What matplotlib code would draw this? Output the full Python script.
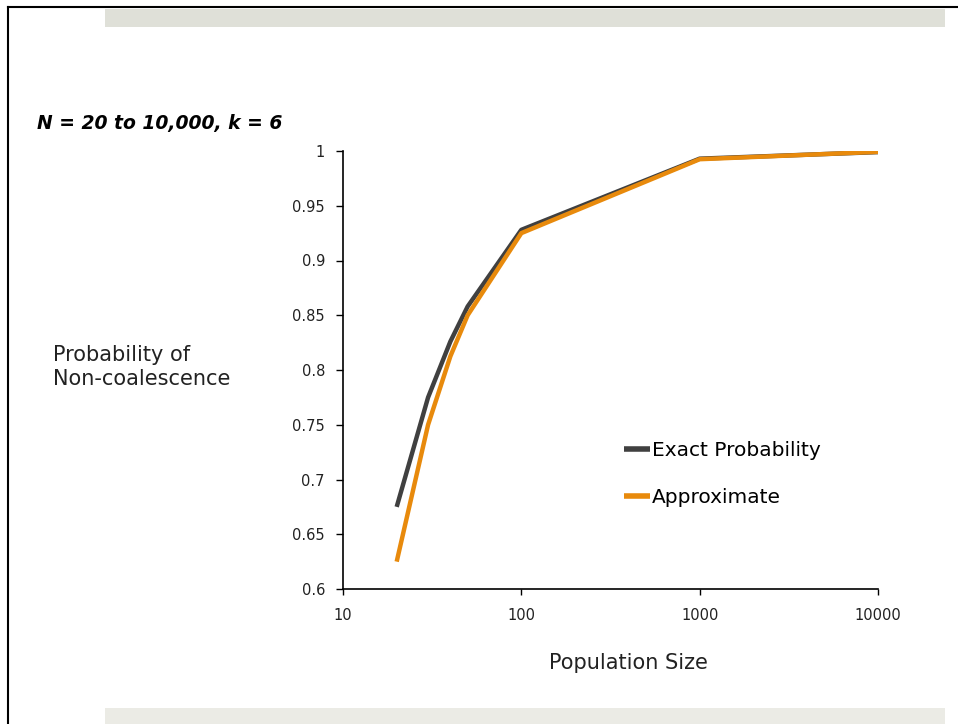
import matplotlib.pyplot as plt
from matplotlib.patches import Rectangle
from matplotlib.lines import Line2D

# values
population_size = [20, 30, 40, 50, 100, 1000, 10000]
exact_prob = [0.675, 0.775, 0.826, 0.858, 0.928, 0.993, 0.999]
approx_prob = [0.625, 0.750, 0.8125, 0.850, 0.925, 0.9925, 0.99925]
y_ticks = [0.6, 0.65, 0.7, 0.75, 0.8, 0.85, 0.9, 0.95, 1.0]
y_tick_labels = ['0.6', '0.65', '0.7', '0.75', '0.8', '0.85', '0.9', '0.95', '1']
x_ticks = [10, 100, 1000, 10000]
x_tick_labels = ['10', '100', '1000', '10000']

W, H = 958, 724
plt.rcParams['font.family'] = ['DejaVu Sans']

fig = plt.figure(figsize=(W / 100, H / 100), dpi=100)


def px(x0, y0, x1, y1):
    """pixel box (top-left origin) -> figure fraction rect"""
    return [x0 / W, 1 - y1 / H, (x1 - x0) / W, (y1 - y0) / H]


# slide decorations: border lines and grey bands
fig.add_artist(Line2D([8 / W, 8 / W], [0, 1 - 7 / H], color='black', lw=1.5))
fig.add_artist(Line2D([8 / W, 1], [1 - 7 / H, 1 - 7 / H], color='black', lw=1.5))
b = px(105, 9, 945, 27)
fig.add_artist(Rectangle((b[0], b[1]), b[2], b[3], color='#dfe0d8', lw=0))
b = px(105, 708, 945, 724)
fig.add_artist(Rectangle((b[0], b[1]), b[2], b[3], color='#ebebe5', lw=0))

ax = fig.add_axes(px(343, 151, 878, 589))
ax.plot(population_size, exact_prob, color='#404040', lw=3.2, label='Exact Probability',
        solid_capstyle='butt')
ax.plot(population_size, approx_prob, color='#e88a0c', lw=3.2, label='Approximate',
        solid_capstyle='butt')

ax.set_xscale('log')
ax.set_xlim(10, 10000)
ax.set_ylim(0.6, 1.0)
ax.set_xticks(x_ticks)
ax.set_xticklabels(x_tick_labels)
ax.minorticks_off()
ax.set_yticks(y_ticks)
ax.set_yticklabels(y_tick_labels)
ax.tick_params(axis='both', labelsize=10.5, length=5, width=1, color='black',
               labelcolor='#222222', pad=8)
ax.tick_params(axis='x', length=4, pad=10)
for side in ['top', 'right']:
    ax.spines[side].set_visible(False)
for side in ['left', 'bottom']:
    ax.spines[side].set_linewidth(1.2)

leg = ax.legend(loc='center left', bbox_to_anchor=((624 - 343) / 535, 1 - (474 - 151) / 438),
                frameon=False, fontsize=14.5, handlelength=1.3, handletextpad=0.1,
                labelspacing=1.35, borderpad=0, borderaxespad=0)
for ln in leg.get_lines():
    ln.set_linewidth(4)

fig.text(37 / W, 1 - 124 / H, 'N = 20 to 10,000, k = 6',
         fontsize=13.5, fontweight='bold', style='italic', va='center', ha='left')
fig.text(53 / W, 1 - 367 / H, 'Probability of\nNon-coalescence', fontsize=15,
         va='center', ha='left', color='#222222', linespacing=1.3)
fig.text(628 / W, 1 - 663 / H, 'Population Size', fontsize=15, va='center',
         ha='center', color='#222222')

fig.savefig('out.png', dpi=100)
